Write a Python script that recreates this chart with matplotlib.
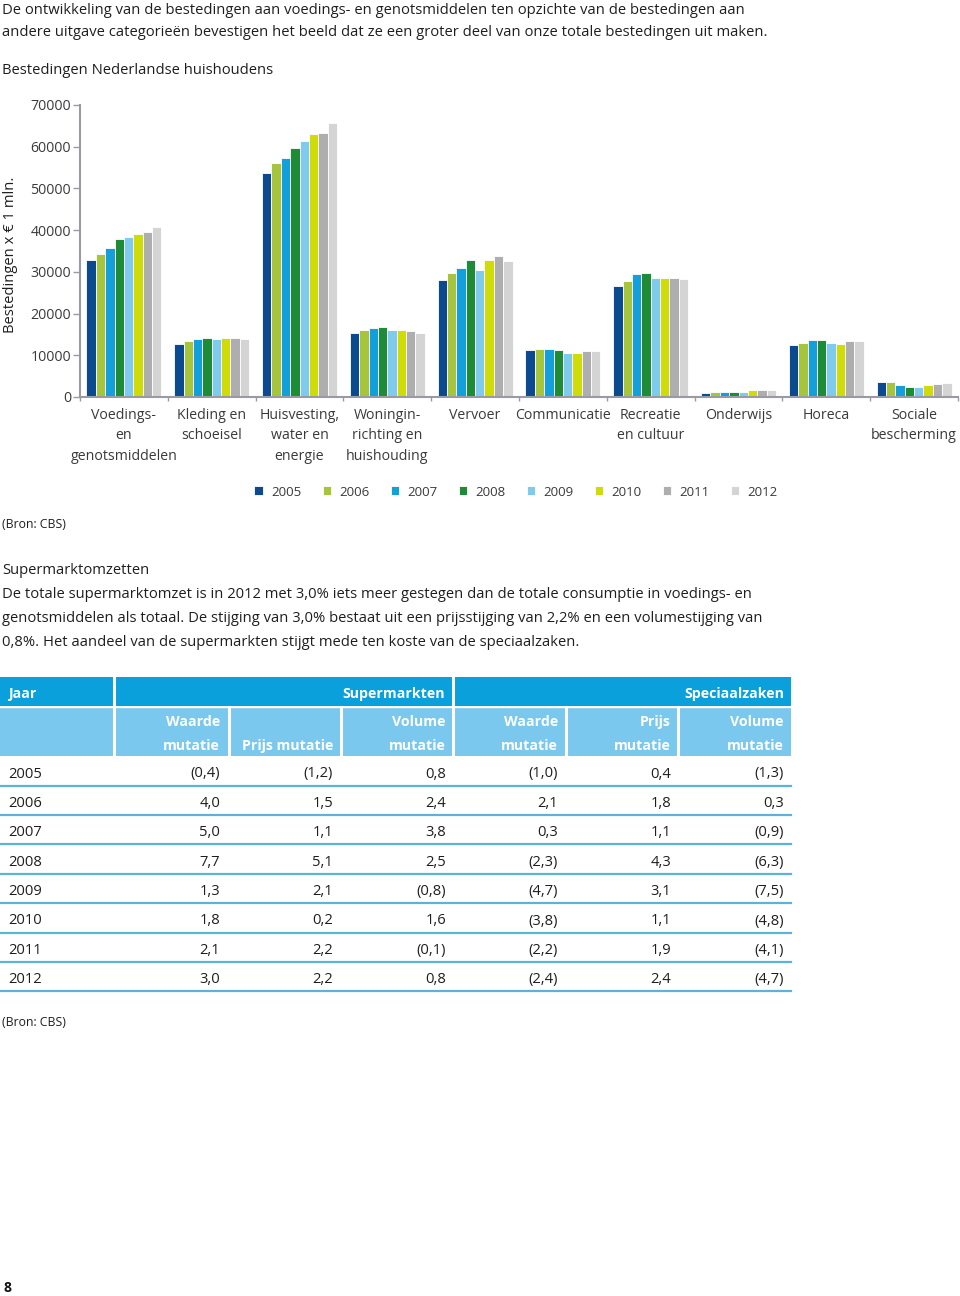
import numpy as np
import matplotlib
matplotlib.use('Agg')
import matplotlib.pyplot as plt
from matplotlib.patches import Rectangle

plt.rcParams['font.family'] = ['Open Sans', 'DejaVu Sans']

# ---- chart data ----
categories = ['Voedings-\nen\ngenotsmiddelen', 'Kleding en\nschoeisel', 'Huisvesting,\nwater en\nenergie',
              'Woningin-\nrichting en\nhuishouding', 'Vervoer', 'Communicatie', 'Recreatie\nen cultuur',
              'Onderwijs', 'Horeca', 'Sociale\nbescherming']
years = ['2005', '2006', '2007', '2008', '2009', '2010', '2011', '2012']
colors = ['#0B4A8F', '#A6C43C', '#139FDA', '#1E8B37', '#7ECBEE', '#CFDC0A', '#AEAEAE', '#D4D4D4']

# spending per year per category, x EUR 1 mln
spend = {
    '2005': [32800, 12800, 53700, 15400, 28100, 11300, 26600, 1000, 12500, 3700],
    '2006': [34200, 13400, 56100, 16000, 29800, 11600, 27800, 1300, 13000, 3700],
    '2007': [35800, 13900, 57200, 16600, 31000, 11600, 29500, 1300, 13700, 2800],
    '2008': [37800, 14200, 59800, 16900, 32800, 11300, 29800, 1300, 13700, 2500],
    '2009': [38400, 13900, 61400, 16000, 30400, 10600, 28600, 1300, 13000, 2500],
    '2010': [39000, 14200, 63100, 16000, 32800, 10600, 28600, 1600, 12800, 2800],
    '2011': [39500, 14200, 63400, 15800, 33800, 11000, 28600, 1600, 13400, 3000],
    '2012': [40700, 14000, 65800, 15400, 32500, 11000, 28300, 1600, 13400, 3400],
}
yticks = [0, 10000, 20000, 30000, 40000, 50000, 60000, 70000]

# ---- table data ----
table_years = ['2005', '2006', '2007', '2008', '2009', '2010', '2011', '2012']
sm_waarde = [-0.4, 4.0, 5.0, 7.7, 1.3, 1.8, 2.1, 3.0]
sm_prijs = [-1.2, 1.5, 1.1, 5.1, 2.1, 0.2, 2.2, 2.2]
sm_volume = [0.8, 2.4, 3.8, 2.5, -0.8, 1.6, -0.1, 0.8]
sp_waarde = [-1.0, 2.1, 0.3, -2.3, -4.7, -3.8, -2.2, -2.4]
sp_prijs = [0.4, 1.8, 1.1, 4.3, 3.1, 1.1, 1.9, 2.4]
sp_volume = [-1.3, 0.3, -0.9, -6.3, -7.5, -4.8, -4.1, -4.7]
sub_headers = ['Waarde\nmutatie', 'Prijs mutatie', 'Volume\nmutatie',
               'Waarde\nmutatie', 'Prijs\nmutatie', 'Volume\nmutatie']


def fmt(v):
    s = f'{abs(v):.1f}'.replace('.', ',')
    return f'({s})' if v < 0 else s


W, H = 960, 1296
fig = plt.figure(figsize=(W / 100, H / 100), dpi=100)

# background axes in pixel coordinates for page text and table
bg = fig.add_axes([0, 0, 1, 1])
bg.set_xlim(0, W)
bg.set_ylim(H, 0)
bg.axis('off')

txt = '#1e1e1e'
fs = 10.6
dy = 2  # small offset: va='center' includes descenders
bg.text(2, 8 + dy, 'De ontwikkeling van de bestedingen aan voedings- en genotsmiddelen ten opzichte van de bestedingen aan',
        fontsize=fs, color=txt, va='center')
bg.text(2, 31 + dy, 'andere uitgave categorieën bevestigen het beeld dat ze een groter deel van onze totale bestedingen uit maken.',
        fontsize=fs, color=txt, va='center')
bg.text(2, 68 + dy, 'Bestedingen Nederlandse huishoudens', fontsize=fs, color=txt, va='center')
bg.text(11, 255, 'Bestedingen x € 1 mln.', fontsize=fs, color=txt, va='center', ha='center', rotation=90)
bg.text(2, 523 + dy, '(Bron: CBS)', fontsize=8.8, color=txt, va='center')
bg.text(2, 569 + dy, 'Supermarktomzetten', fontsize=fs, color=txt, va='center')
para = ['De totale supermarktomzet is in 2012 met 3,0% iets meer gestegen dan de totale consumptie in voedings- en',
        'genotsmiddelen als totaal. De stijging van 3,0% bestaat uit een prijsstijging van 2,2% en een volumestijging van',
        '0,8%. Het aandeel van de supermarkten stijgt mede ten koste van de speciaalzaken.']
for i, line in enumerate(para):
    bg.text(2, 593 + dy + i * 23.5, line, fontsize=fs, color=txt, va='center')
bg.text(2, 1020 + dy, '(Bron: CBS)', fontsize=8.8, color=txt, va='center')
bg.text(3, 1288, '8', fontsize=10, color='#111111', va='center', fontweight='bold')

# ---- chart ----
ax = fig.add_axes([80 / W, 1 - 397 / H, 878 / W, 292 / H])
x = np.arange(len(categories))
bw = 0.855 / len(years)
for i, yr in enumerate(years):
    ax.bar(x + (i - 3.5) * bw, spend[yr], width=bw, color=colors[i],
           edgecolor='white', linewidth=0.6, label=yr)

ax.set_xlim(-0.5, len(categories) - 0.5)
ax.set_ylim(0, 70000)
ax.set_yticks(yticks)
ax.set_yticklabels([str(t) for t in yticks])
ax.set_xticks(x)
ax.set_xticklabels(categories, fontsize=10.2, color='#3a3a3a', linespacing=1.48, va='top')
ax.set_xticks(np.arange(-0.5, len(categories)), minor=True)
ax.tick_params(axis='x', which='major', length=0, pad=8)
ax.tick_params(axis='x', which='minor', length=3, color='#9a9aa4', width=1)
ax.tick_params(axis='y', length=5, color='#9a9aa4', width=1, labelsize=10.2, labelcolor='#3a3a3a', pad=1.5)
for s in ['top', 'right']:
    ax.spines[s].set_visible(False)
for s in ['left', 'bottom']:
    ax.spines[s].set_color('#9a9aa4')
    ax.spines[s].set_linewidth(1.5)

ax.legend(ncol=8, loc='center', bbox_to_anchor=(516 / W, 1 - 492 / H), bbox_transform=fig.transFigure,
          frameon=False, fontsize=9.5, handlelength=0.65, handleheight=0.65, handletextpad=0.6,
          columnspacing=1.62, labelcolor='#3a3a3a')

# ---- table ----
dark_blue = '#0AA0DC'
light_blue = '#7BC8EE'
line_col = '#5DB3D6'
bg.add_patch(Rectangle((0, 677), 791, 29, color=dark_blue, lw=0))
bg.add_patch(Rectangle((0, 707), 791, 49, color=light_blue, lw=0))
# white separators
for sx in [114, 452.5]:
    bg.plot([sx, sx], [677, 756], color='white', lw=2.2)
for sx in [229, 341, 566, 678]:
    bg.plot([sx, sx], [707, 756], color='white', lw=2.2)
bg.plot([0, 791], [706.5, 706.5], color='white', lw=1)

hfs = 10.2
bg.text(8, 692 + dy, 'Jaar', fontsize=hfs, color='white', fontweight='bold', va='center')
bg.text(445, 692 + dy, 'Supermarkten', fontsize=hfs, color='white', fontweight='bold', va='center', ha='right')
bg.text(784, 692 + dy, 'Speciaalzaken', fontsize=hfs, color='white', fontweight='bold', va='center', ha='right')

col_right = [220, 333, 446, 558, 671, 784]
for cx, h in zip(col_right, sub_headers):
    lines = h.split('\n')
    if len(lines) == 1:
        bg.text(cx, 744 + dy, lines[0], fontsize=hfs, color='white', fontweight='bold', va='center', ha='right')
    else:
        bg.text(cx, 720 + dy, lines[0], fontsize=hfs, color='white', fontweight='bold', va='center', ha='right')
        bg.text(cx, 744 + dy, lines[1], fontsize=hfs, color='white', fontweight='bold', va='center', ha='right')

columns = [sm_waarde, sm_prijs, sm_volume, sp_waarde, sp_prijs, sp_volume]
for r, yr in enumerate(table_years):
    ty = 772 + r * 29.4
    bg.text(8, ty + dy, yr, fontsize=fs, color=txt, va='center')
    for cx, col in zip(col_right, columns):
        bg.text(cx, ty + dy, fmt(col[r]), fontsize=fs, color=txt, va='center', ha='right')
    bg.plot([0, 791], [ty + 13.5, ty + 13.5], color=line_col, lw=1.6)

fig.savefig('out.png', dpi=100)
